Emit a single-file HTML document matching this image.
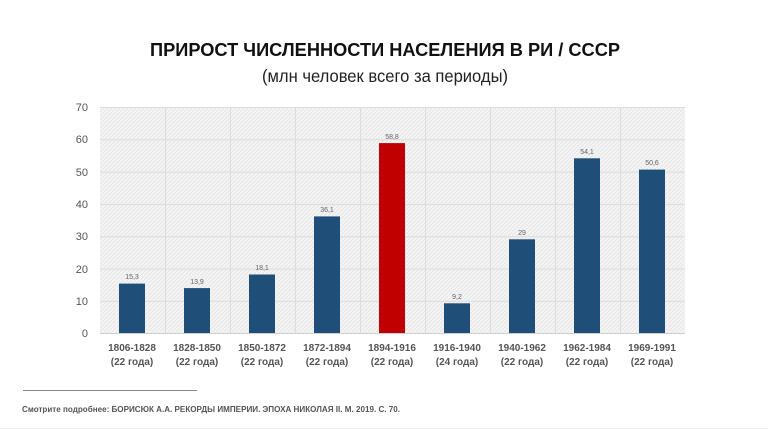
<!DOCTYPE html>
<html><head><meta charset="utf-8"><style>
body{margin:0;background:#fff;}
svg{display:block;font-family:"Liberation Sans","DejaVu Sans",sans-serif;}
</style></head><body>
<svg width="768" height="432" viewBox="0 0 768 432">
<defs><pattern id="h" width="4" height="4" patternUnits="userSpaceOnUse"><rect width="4" height="4" fill="#f4f4f4"/><path d="M0 4L4 0" stroke="#e6e6e6" stroke-width="1"/></pattern></defs>
<rect x="0" y="0" width="768" height="432" fill="#fff"/>
<text x="150" y="56" font-size="18.5" font-weight="bold" fill="#111" textLength="470" lengthAdjust="spacingAndGlyphs">ПРИРОСТ ЧИСЛЕННОСТИ НАСЕЛЕНИЯ В РИ / СССР</text>
<text x="262" y="82" font-size="17.5" fill="#222" textLength="246" lengthAdjust="spacingAndGlyphs">(млн человек всего за периоды)</text>
<rect x="100" y="107" width="585" height="226" fill="url(#h)"/>
<g stroke="#dcdcdc" stroke-width="1">
<line x1="100" x2="685" y1="107.5" y2="107.5"/><line x1="100" x2="685" y1="139.8" y2="139.8"/><line x1="100" x2="685" y1="172.1" y2="172.1"/><line x1="100" x2="685" y1="204.4" y2="204.4"/><line x1="100" x2="685" y1="236.7" y2="236.7"/><line x1="100" x2="685" y1="269" y2="269"/><line x1="100" x2="685" y1="301.3" y2="301.3"/>
<line x1="165.5" x2="165.5" y1="107" y2="333"/><line x1="230.5" x2="230.5" y1="107" y2="333"/><line x1="295.5" x2="295.5" y1="107" y2="333"/><line x1="360.5" x2="360.5" y1="107" y2="333"/><line x1="425.5" x2="425.5" y1="107" y2="333"/><line x1="490.5" x2="490.5" y1="107" y2="333"/><line x1="555.5" x2="555.5" y1="107" y2="333"/><line x1="620.5" x2="620.5" y1="107" y2="333"/>
</g>
<line x1="100" x2="685" y1="333.5" y2="333.5" stroke="#cfcfcf"/>
<g font-size="11" fill="#555" text-anchor="end">
<text x="88" y="337">0</text><text x="88" y="305">10</text><text x="88" y="273">20</text><text x="88" y="240">30</text><text x="88" y="208">40</text><text x="88" y="176">50</text><text x="88" y="143">60</text><text x="88" y="111">70</text>
</g>
<g fill="#1f4e79">
<rect x="119" y="283.6" width="26" height="49.4"/>
<rect x="184" y="288.1" width="26" height="44.9"/>
<rect x="249" y="274.5" width="26" height="58.5"/>
<rect x="314" y="216.4" width="26" height="116.6"/>
<rect x="444" y="303.3" width="26" height="29.7"/>
<rect x="509" y="239.3" width="26" height="93.7"/>
<rect x="574" y="158.3" width="26" height="174.7"/>
<rect x="639" y="169.6" width="26" height="163.4"/>
</g>
<rect x="379" y="143.1" width="26" height="189.9" fill="#c00000"/>
<g font-size="7" fill="#666" text-anchor="middle">
<text x="132" y="279">15,3</text><text x="197" y="284">13,9</text><text x="262" y="270">18,1</text><text x="327" y="212">36,1</text><text x="392" y="139">58,8</text><text x="457" y="299">9,2</text><text x="522" y="235">29</text><text x="587" y="154">54,1</text><text x="652" y="165">50,6</text>
</g>
<g font-size="10" font-weight="bold" fill="#555" text-anchor="middle">
<text x="132" y="351">1806-1828</text><text x="132" y="365">(22 года)</text>
<text x="197" y="351">1828-1850</text><text x="197" y="365">(22 года)</text>
<text x="262" y="351">1850-1872</text><text x="262" y="365">(22 года)</text>
<text x="327" y="351">1872-1894</text><text x="327" y="365">(22 года)</text>
<text x="392" y="351">1894-1916</text><text x="392" y="365">(22 года)</text>
<text x="457" y="351">1916-1940</text><text x="457" y="365">(24 года)</text>
<text x="522" y="351">1940-1962</text><text x="522" y="365">(22 года)</text>
<text x="587" y="351">1962-1984</text><text x="587" y="365">(22 года)</text>
<text x="652" y="351">1969-1991</text><text x="652" y="365">(22 года)</text>
</g>
<line x1="23" x2="197" y1="390.5" y2="390.5" stroke="#888"/>
<text x="22" y="412" font-size="8" font-weight="bold" fill="#555" textLength="378" lengthAdjust="spacingAndGlyphs">Смотрите подробнее: БОРИСЮК А.А. РЕКОРДЫ ИМПЕРИИ. ЭПОХА НИКОЛАЯ II. М. 2019. С. 70.</text>
<line x1="0" x2="768" y1="428.5" y2="428.5" stroke="#eee"/>
</svg>
</body></html>
